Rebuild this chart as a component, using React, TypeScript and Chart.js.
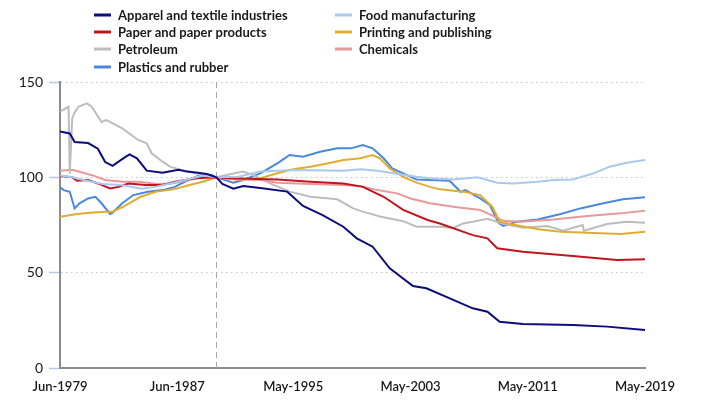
import React, { useEffect, useRef } from 'react';
import { Chart, registerables } from 'chart.js';

Chart.register(...registerables);

// x values are month indices counted from Jun-1979 (0) to May-2019 (479)
const tickMonths = [0, 96, 191, 287, 383, 479];
const tickLabels = ['Jun-1979', 'Jun-1987', 'May-1995', 'May-2003', 'May-2011', 'May-2019'];
const BASE_MONTH = 128;

const apparelMonths = [0, 8, 12, 23, 31, 37, 43, 53, 57, 63, 71, 84, 97, 104, 113, 121, 128, 133, 142, 150, 164, 186, 199, 215, 232, 243, 256, 270, 289, 300, 322, 338, 350, 360, 379, 420, 448, 479];
const apparelValues = [124, 123, 118.5, 118, 115, 108, 106, 110.5, 112, 110, 103.5, 102.4, 104, 103, 102.4, 101.6, 100, 96.5, 94, 95.4, 94.4, 92.5, 85, 80.2, 74.1, 68, 63.6, 52.3, 43, 41.8, 35.7, 31.3, 29.5, 24.3, 23.1, 22.5, 21.7, 19.9];

const foodMonths = [0, 10, 20, 35, 50, 67, 78, 92, 105, 117, 128, 146, 164, 191, 232, 246, 260, 273, 292, 303, 322, 342, 358, 371, 391, 404, 420, 437, 450, 464, 479];
const foodValues = [101, 100, 98.5, 96.5, 96, 94, 95, 97, 99, 101, 100, 100.3, 103, 103.8, 103.5, 104.2, 103.5, 102.1, 100.3, 99.5, 98.9, 100, 97.2, 96.8, 97.7, 98.6, 98.9, 102.1, 105.6, 107.7, 109.1];

const paperMonths = [0, 10, 14, 23, 31, 41, 48, 56, 70, 84, 94, 111, 128, 139, 178, 205, 232, 248, 265, 281, 301, 311, 338, 350, 358, 379, 420, 456, 479];
const paperValues = [100.7, 100, 98.2, 98.6, 96.8, 94.2, 95, 96.8, 96, 96, 97.7, 99.5, 100, 99.5, 98.9, 97.7, 96.8, 95, 89.8, 82.9, 77.6, 75.8, 69.7, 68, 62.8, 61, 58.7, 56.6, 57];

const printingMonths = [0, 14, 27, 38, 43, 52, 66, 79, 93, 106, 117, 128, 145, 164, 178, 191, 205, 219, 232, 246, 256, 262, 270, 281, 292, 303, 311, 330, 344, 354, 360, 377, 393, 410, 432, 459, 479];
const printingValues = [79.3, 80.8, 81.6, 82, 82, 84.6, 89.8, 92.5, 93.7, 96, 97.7, 100, 98.9, 99.5, 102.1, 104.2, 105.6, 107.3, 109.1, 110, 111.7, 110, 104.7, 100.3, 97.2, 95, 93.7, 92.5, 90.7, 84.6, 76.7, 74.5, 72.7, 71.5, 71, 70.3, 71.5];

const petroleumMonths = [0, 7, 8, 10, 12, 15, 22, 26, 34, 38, 51, 64, 71, 75, 84, 90, 100, 111, 121, 128, 145, 150, 158, 172, 188, 205, 227, 240, 248, 262, 281, 292, 311, 322, 330, 338, 350, 362, 379, 399, 412, 428, 429, 448, 464, 479];
const petroleumValues = [134.4, 137, 102, 131, 134, 137, 138.8, 137, 129, 130, 125.7, 119.6, 117.8, 112.6, 108.2, 105.6, 103.8, 102.1, 101.2, 100, 102.4, 103, 101.2, 96.8, 92.5, 89.8, 88.5, 83.7, 82, 79.5, 77, 74.1, 74.1, 73.5, 75.8, 76.7, 78.3, 75.8, 73.5, 74.5, 72, 75, 72, 75.5, 76.7, 76.2];

const chemicalsMonths = [0, 10, 18, 27, 37, 51, 64, 80, 92, 105, 118, 128, 145, 164, 178, 205, 232, 246, 260, 276, 287, 303, 322, 344, 355, 363, 377, 404, 432, 459, 479];
const chemicalsValues = [103.5, 104, 102.5, 101, 98.6, 97.7, 97.7, 96.5, 96.8, 98.5, 100.3, 100, 98.9, 98.6, 97.2, 96.5, 96, 95.4, 93.3, 91.6, 88.9, 86.4, 84.6, 82.9, 79.7, 77.2, 76.7, 77.9, 79.7, 81.1, 82.5];

const plasticsMonths = [0, 3, 8, 12, 16, 23, 29, 34, 41, 43, 51, 60, 72, 84, 94, 105, 113, 124, 128, 142, 150, 164, 178, 188, 199, 213, 227, 238, 248, 256, 265, 272, 281, 292, 303, 319, 328, 332, 344, 352, 359, 363, 374, 391, 410, 426, 445, 461, 479];
const plasticsValues = [94.8, 93.3, 92.4, 83.7, 86.4, 88.9, 89.8, 86.4, 80.8, 81.4, 86.4, 90.7, 92.4, 93.3, 95, 98.6, 100.7, 101.2, 100, 97.2, 98.6, 102.1, 107.3, 111.7, 110.8, 113.4, 115.2, 115.2, 116.9, 115.2, 110, 104.7, 102.1, 98.9, 98.6, 98.2, 92.4, 93.3, 89, 85.5, 76.2, 74.5, 76.7, 77.9, 80.8, 83.7, 86.4, 88.5, 89.5];

const seriesNames = [
  'Apparel and textile industries',
  'Food manufacturing',
  'Paper and paper products',
  'Printing and publishing',
  'Petroleum',
  'Chemicals',
  'Plastics and rubber',
];
const seriesColors = ['#0c0c7e', '#a9c9f0', '#c0161f', '#e0ad2e', '#bdbdbd', '#e8999a', '#4a88dc'];
const seriesMonths = [apparelMonths, foodMonths, paperMonths, printingMonths, petroleumMonths, chemicalsMonths, plasticsMonths];
const seriesValues = [apparelValues, foodValues, paperValues, printingValues, petroleumValues, chemicalsValues, plasticsValues];

const overlayPlugin = {
  id: 'overlay',
  beforeDatasetsDraw(chart: any) {
    const { ctx, chartArea, scales } = chart;
    const x = Math.round(scales.x.getPixelForValue(BASE_MONTH)) + 0.5;
    ctx.save();
    ctx.strokeStyle = '#a6a6a6';
    ctx.lineWidth = 1;
    ctx.setLineDash([6, 4]);
    ctx.beginPath();
    ctx.moveTo(x, chartArea.top);
    ctx.lineTo(x, chartArea.bottom + 4);
    ctx.stroke();
    ctx.restore();
  },
  afterDraw(chart: any) {
    const { ctx } = chart;
    const colX = [94, 335];
    const rowY = [15, 32, 49, 67];
    ctx.save();
    ctx.font = 'bold 13px Lato';
    ctx.textBaseline = 'middle';
    ctx.textAlign = 'left';
    seriesNames.forEach((name, i) => {
      const x = colX[i % 2];
      const y = rowY[Math.floor(i / 2)];
      ctx.strokeStyle = seriesColors[i];
      ctx.lineWidth = 3;
      ctx.beginPath();
      ctx.moveTo(x, y);
      ctx.lineTo(x + 17, y);
      ctx.stroke();
      ctx.fillStyle = '#1a1a1a';
      ctx.fillText(name, x + 24, y + 1);
    });
    ctx.restore();
  },
};

export default function App() {
  const canvasRef = useRef<HTMLCanvasElement | null>(null);

  useEffect(() => {
    if (!canvasRef.current) return;
    Chart.defaults.font.family = 'Lato';
    const datasets = seriesNames.map((name, i) => ({
      label: name,
      data: seriesMonths[i].map((m, j) => ({ x: m, y: seriesValues[i][j] })),
      borderColor: seriesColors[i],
      backgroundColor: seriesColors[i],
      borderWidth: 2,
      pointRadius: 0,
      tension: 0,
      fill: false,
    }));
    const chart = new Chart(canvasRef.current, {
      type: 'line',
      data: { datasets },
      options: {
        animation: false,
        responsive: false,
        devicePixelRatio: 1,
        layout: { padding: { left: 0, right: 75, top: 82, bottom: 0 } },
        plugins: { legend: { display: false }, tooltip: { enabled: false } },
        scales: {
          x: {
            type: 'linear',
            min: 0,
            max: 479,
            afterBuildTicks: (scale: any) => {
              scale.ticks = tickMonths.map((v) => ({ value: v }));
            },
            afterFit: (scale: any) => {
              scale.height = 47;
            },
            grid: { display: false, drawTicks: false },
            border: { display: true, color: '#8c8c8c', width: 2 },
            ticks: {
              autoSkip: false,
              maxRotation: 0,
              padding: 11,
              color: '#1a1a1a',
              font: { size: 13, weight: '600' as any },
              callback: (v: any) => {
                const idx = tickMonths.indexOf(Number(v));
                return idx >= 0 ? tickLabels[idx] : '';
              },
            },
          },
          y: {
            min: 0,
            max: 150,
            afterFit: (scale: any) => {
              scale.width = 60;
            },
            grid: {
              color: '#c4c4c4',
              lineWidth: 1,
              drawTicks: true,
              tickLength: 11,
              tickColor: '#b4c7e7',
              tickWidth: 1.5,
              tickBorderDash: [],
            },
            border: { display: true, color: '#8c8c8c', width: 2, dash: [1.5, 3.5] },
            ticks: {
              stepSize: 50,
              padding: 6,
              color: '#1a1a1a',
              font: { size: 14 },
            },
          },
        },
      },
      plugins: [overlayPlugin],
    });
    return () => chart.destroy();
  }, []);

  return (
    <div style={{ position: 'absolute', left: 0, top: 0, width: 720, height: 415, background: '#fff' }}>
      <canvas ref={canvasRef} width={720} height={415} style={{ display: 'block' }} />
    </div>
  );
}
